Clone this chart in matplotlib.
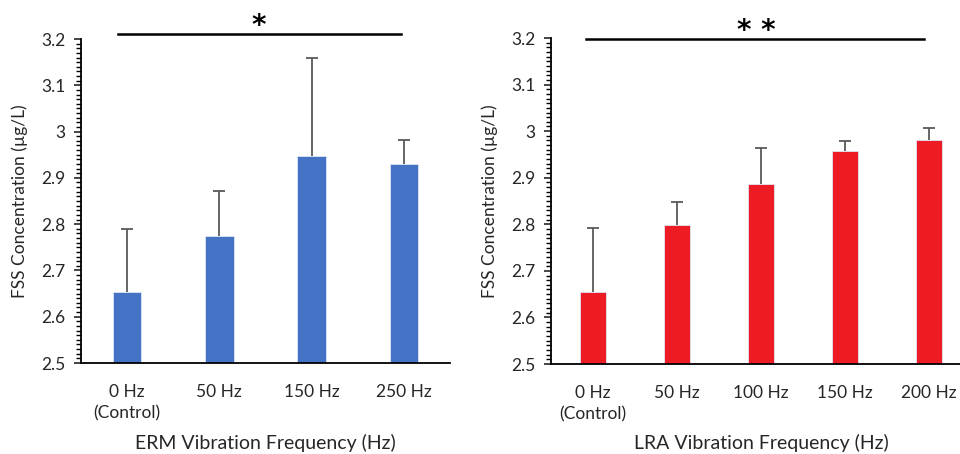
import matplotlib
matplotlib.use('Agg')
import matplotlib.pyplot as plt
from matplotlib.ticker import MultipleLocator, FixedLocator
import numpy as np

plt.rcParams['font.family'] = ['Lato', 'DejaVu Sans']

# ERM panel
erm_labels = ["0 Hz\n(Control)", "50 Hz", "150 Hz", "250 Hz"]
erm_means = [2.653, 2.774, 2.947, 2.930]
erm_errs = [0.137, 0.098, 0.211, 0.051]

# LRA panel
lra_labels = ["0 Hz\n(Control)", "50 Hz", "100 Hz", "150 Hz", "200 Hz"]
lra_means = [2.654, 2.798, 2.887, 2.958, 2.981]
lra_errs = [0.137, 0.050, 0.077, 0.021, 0.025]

W, H = 960, 454
fig = plt.figure(figsize=(W / 100, H / 100), dpi=100)


def panel(rect, labels, means, errs, color, xlabel, sig_x, sig_y, star, star_x, star_y):
    ax = fig.add_axes([rect[0] / W, 1 - rect[3] / H, (rect[2] - rect[0]) / W,
                       (rect[3] - rect[1]) / H])
    x = np.arange(len(labels))
    means = np.array(means)
    tops = means + np.array(errs)
    ax.bar(x, means, width=0.31, color=color, edgecolor='#dfe6f2', linewidth=0.6,
           zorder=2)
    # upper error bars only
    ax.vlines(x, means, tops, color='#595959', lw=1.3, zorder=3)
    ax.plot(x, tops, ls='none', marker='_', markersize=9, mew=1.3,
            color='#595959', zorder=3)
    ax.set_ylim(2.5, 3.2)
    ax.set_xlim(-0.5, len(labels) - 0.5)
    ax.yaxis.set_major_locator(FixedLocator([2.5, 2.6, 2.7, 2.8, 2.9, 3.0, 3.1, 3.2]))
    ax.yaxis.set_minor_locator(MultipleLocator(0.01))
    ax.set_yticklabels(['2.5', '2.6', '2.7', '2.8', '2.9', '3', '3.1', '3.2'])
    ax.set_xticks(x)
    ax.set_xticklabels(labels, fontsize=12.5, color='#262626', linespacing=1.45)
    ax.tick_params(axis='x', length=0, pad=15)
    ax.tick_params(axis='y', which='major', length=5, width=1.2, labelsize=12.5,
                   colors='#262626', pad=6)
    ax.tick_params(axis='y', which='minor', length=3.5, width=1)
    for s in ['top', 'right']:
        ax.spines[s].set_visible(False)
    ax.spines['left'].set_linewidth(1.3)
    ax.spines['bottom'].set_linewidth(1.3)
    ax.set_ylabel("FSS Concentration (µg/L)", fontsize=12.5, color='#262626',
                  labelpad=10)
    ax.set_xlabel(xlabel, fontsize=14, color='#262626', va='center')
    h = rect[3] - rect[1]
    ax.xaxis.set_label_coords(0.5, -(443 - rect[3]) / h)
    ax.plot(sig_x, [sig_y, sig_y], color='black', lw=1.8, clip_on=False)
    ax.text(star_x, star_y, star, ha='center', va='baseline', fontsize=20,
            fontweight='bold', family='DejaVu Sans', clip_on=False)
    return ax


panel((81, 39, 450, 363), erm_labels, erm_means, erm_errs, '#4472C4',
      "ERM Vibration Frequency (Hz)", [-0.1, 2.97], 3.211, "*", 1.43, 3.211)
panel((551, 38, 971, 364), lra_labels, lra_means, lra_errs, '#ED1C24',
      "LRA Vibration Frequency (Hz)", [-0.08, 3.94], 3.197, "* *", 1.95, 3.198)

fig.savefig("out.png", dpi=100)
